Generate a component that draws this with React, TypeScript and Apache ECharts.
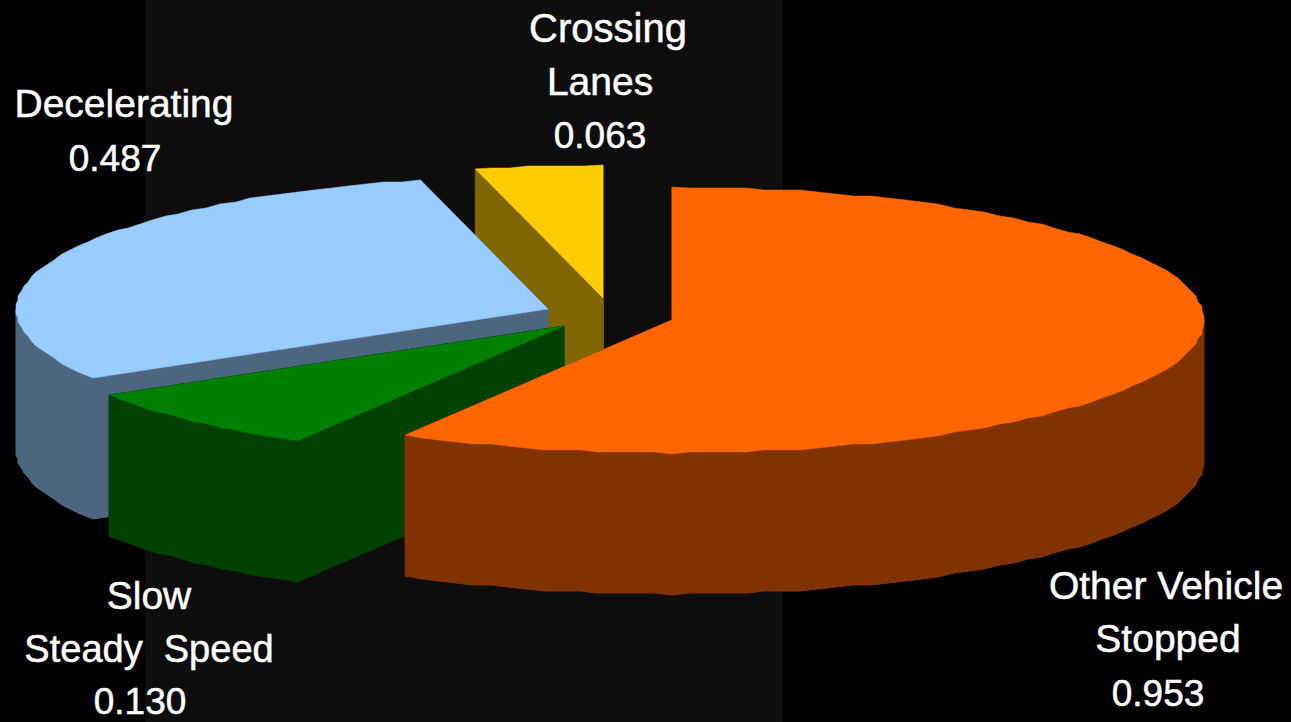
import React, { useEffect, useRef } from "react";
import * as echarts from "echarts";

// Slices in painting order: the farthest piece first, the nearest last.
const categories = ["Crossing Lanes", "Decelerating", "Slow Steady Speed", "Other Vehicle Stopped"];
const values = [0.063, 0.487, 0.13, 0.953];
const labelLines = [["Crossing", "Lanes"], ["Decelerating"], ["Slow", "Steady  Speed"], ["Other Vehicle", "Stopped"]];

const topColors = ["#FFCC00", "#99CCFF", "#008000", "#FF6600"];
const wallColors = ["#806600", "#4D6680", "#004000", "#803300"];

// Projection of the disc
const CENTER_X = 609;
const CENTER_Y = 316;
const RADIUS_X = 532;
const RADIUS_Y = 133;
const DEPTH = 141;
const STEP_DEG = 2;
const GRID = 2;
// How far each slice is pulled out of the disc, in pixels
const pull = [[-6, -18], [-61, -7], [-45, 10], [63, 4]];
// Centre x, baseline y and font size of each text row
const labelRows = [
  [[608, 43, 40], [600, 96, 39], [600, 149, 37]],
  [[124, 118, 39], [115, 172, 37]],
  [[149, 610, 39], [149, 663, 38], [140, 715, 37]],
  [[1166, 600, 39], [1168, 653, 39], [1158, 707, 37]],
];

const total = values.reduce((a, b) => a + b, 0);
const RAD = Math.PI / 180;

function sliceAngles(index: number): [number, number] {
  // Angles run clockwise from twelve o'clock; the last slice starts at zero.
  const before = values.slice(0, index).reduce((a, b) => a + b, 0);
  const end = 360 - (before / total) * 360;
  return [end - (values[index] / total) * 360, end];
}

function rimArc(cx: number, cy: number, from: number, to: number): number[][] {
  const pts: number[][] = [];
  const exact = (deg: number) => [cx + RADIUS_X * Math.sin(deg * RAD), cy - RADIUS_Y * Math.cos(deg * RAD)];
  pts.push(exact(from));
  for (let a = Math.ceil(from / STEP_DEG + 0.2) * STEP_DEG; a < to - 0.5; a += STEP_DEG) {
    const [x, y] = exact(a);
    // The outline is stepped to a coarse raster, as in an old metafile export.
    pts.push([Math.round(x / GRID) * GRID, Math.round(y / GRID) * GRID]);
  }
  pts.push(exact(to));
  return pts;
}

function polygon(points: number[][], fill: string, lineWidth: number) {
  return { type: "polygon", shape: { points }, style: { fill, stroke: fill, lineWidth } };
}

function renderSlice(params: any, api: any) {
  const i = params.dataIndex;
  const [start, end] = sliceAngles(i);
  const cx = CENTER_X + pull[i][0];
  const cy = CENTER_Y + pull[i][1];
  const down = (p: number[]) => [p[0], p[1] + DEPTH];
  const top = rimArc(cx, cy, start, end);
  const apex = [cx, cy];
  const children: any[] = [];

  // Radial cut faces
  children.push(polygon([apex, top[0], down(top[0]), down(apex)], wallColors[i], 1));
  const last = top[top.length - 1];
  children.push(polygon([apex, last, down(last), down(apex)], wallColors[i], 1));

  // Curved outer wall, only where it faces the viewer
  const from = Math.max(start, 90);
  const to = Math.min(end, 270);
  if (to > from) {
    const arc = rimArc(cx, cy, from, to);
    children.push(polygon([...arc, ...arc.slice().reverse().map(down)], wallColors[i], 1));
  }

  // Top face
  children.push(polygon([apex, ...top], topColors[i], 0.5));

  // Label rows: category lines, then the value
  const rows = [...labelLines[i], Number(api.value(0)).toFixed(3)];
  rows.forEach((text, r) => {
    const [x, y, size] = labelRows[i][r];
    children.push({
      type: "text",
      x,
      y: y + 5,
      style: {
        text,
        fill: "#FFFFFF",
        stroke: "#FFFFFF",
        lineWidth: 0.5,
        font: `${size}px "Liberation Sans", Arial, sans-serif`,
        textAlign: "center",
        textVerticalAlign: "bottom",
      },
    });
  });
  return { type: "group", children };
}

export default function App() {
  const ref = useRef<HTMLDivElement>(null);
  useEffect(() => {
    document.body.style.margin = "0";
    document.body.style.background = "#000";
    const chart = echarts.init(ref.current!, undefined, { renderer: "svg" });
    chart.setOption({
      animation: false,
      backgroundColor: "#000000",
      graphic: [
        { type: "rect", z: 0, silent: true, shape: { x: 145, y: 0, width: 638, height: 722 }, style: { fill: "#0D0D0D" } },
      ],
      series: [
        {
          type: "custom",
          coordinateSystem: "none",
          silent: true,
          z: 5,
          renderItem: renderSlice,
          data: categories.map((name, i) => ({ name, value: [values[i]] })),
        },
      ],
    });
    return () => chart.dispose();
  }, []);
  return <div ref={ref} style={{ position: "fixed", left: 0, top: 0, width: 1291, height: 722 }} />;
}
